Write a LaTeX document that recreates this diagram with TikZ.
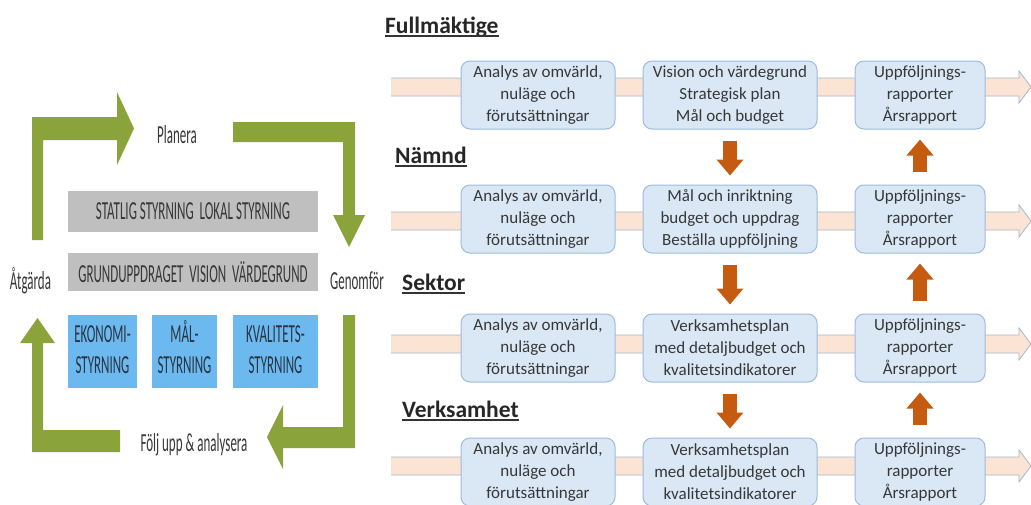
\documentclass[tikz,border=0pt]{standalone}
\usepackage{fontspec}
\setmainfont{Carlito}
\usetikzlibrary{arrows.meta,calc}

\definecolor{bandfill}{RGB}{252,228,212}
\definecolor{banddraw}{RGB}{166,182,203}
\definecolor{boxfill}{RGB}{218,232,246}
\definecolor{boxdraw}{RGB}{157,187,221}
\definecolor{arrorange}{RGB}{197,90,17}
\definecolor{cyclegreen}{RGB}{138,163,59}
\definecolor{greyfill}{RGB}{191,191,191}
\definecolor{bluefill}{RGB}{108,185,240}
\definecolor{txtgrey}{RGB}{55,55,55}
\definecolor{txtblue}{RGB}{40,52,66}

\newcommand{\squeeze}[1]{\scalebox{0.5}[1]{#1}}

\tikzset{
  band/.style={fill=bandfill, draw=banddraw, line width=0.8pt},
  flowbox/.style={rectangle, rounded corners=9pt, fill=boxfill, draw=boxdraw, line width=1pt,
    minimum height=68pt, align=center, inner sep=2pt, text=txtgrey,
    font=\fontsize{17}{22}\selectfont},
  levellabel/.style={inner sep=0pt, anchor=base west, text=black!85,
    font=\fontsize{23.5}{28}\selectfont\bfseries},
  uline/.style={line width=1.3pt, black!80},
  orangearrow/.style={draw=arrorange, line width=14pt, -{Triangle[length=16pt,width=26pt]}},
  downarrow/.style={orangearrow, shorten <=11pt, shorten >=9pt},
  uparrow/.style={orangearrow, shorten <=13pt, shorten >=10pt},
  cyclearrow/.style={fill=cyclegreen},
  cyclelabel/.style={inner sep=0pt, anchor=base, text=txtgrey, font=\fontsize{26}{32}\selectfont},
  greybar/.style={fill=greyfill, minimum width=250pt, inner sep=0pt, text=txtgrey,
    font=\fontsize{26}{32}\selectfont},
  bluebox/.style={fill=bluefill, minimum height=73pt, inner sep=0pt, text=txtblue,
    font=\fontsize{26}{31}\selectfont}
}

\begin{document}
\begin{tikzpicture}[x=1pt,y=1pt,yscale=-1]
\path [use as bounding box, fill=white] (0,0) rectangle (1031,504);

%Shape: Right Arrow (band row 1)
\path [band] (391,78) -- (1019,78) -- (1019,71) -- (1031,87) -- (1019,103) -- (1019,96) -- (391,96);
%Shape: Right Arrow (band row 2)
\path [band] (391,212) -- (1019,212) -- (1019,205) -- (1031,221) -- (1019,237) -- (1019,230) -- (391,230);
%Shape: Right Arrow (band row 3)
\path [band] (391,335) -- (1019,335) -- (1019,328) -- (1031,344) -- (1019,360) -- (1019,353) -- (391,353);
%Shape: Right Arrow (band row 4)
\path [band] (391,457) -- (1019,457) -- (1019,450) -- (1031,466) -- (1019,482) -- (1019,475) -- (391,475);

% Text Node
\node [levellabel] (fullm) at (385,33) {Fullmäktige};
\draw [uline] ($(fullm.base west)+(0,3)$) -- ($(fullm.base east)+(0,3)$);
% Text Node
\node [levellabel] (namnd) at (395,163) {Nämnd};
\draw [uline] ($(namnd.base west)+(0,3)$) -- ($(namnd.base east)+(0,3)$);
% Text Node
\node [levellabel] (sektor) at (402,290) {Sektor};
\draw [uline] ($(sektor.base west)+(0,3)$) -- ($(sektor.base east)+(0,3)$);
% Text Node
\node [levellabel] (verks) at (402,417) {Verksamhet};
\draw [uline] ($(verks.base west)+(0,3)$) -- ($(verks.base east)+(0,3)$);

%Rounded Rect (row 1)
\node [flowbox, minimum width=154pt] (ana1) at (538,95) {Analys av omvärld,\\nuläge och\\förutsättningar};
\node [flowbox, minimum width=174pt] (plan1) at (730,95) {Vision och värdegrund\\Strategisk plan\\Mål och budget};
\node [flowbox, minimum width=130pt] (upp1) at (920,95) {Uppföljnings-\\rapporter\\Årsrapport};
%Rounded Rect (row 2)
\node [flowbox, minimum width=154pt] (ana2) at (538,219) {Analys av omvärld,\\nuläge och\\förutsättningar};
\node [flowbox, minimum width=174pt] (plan2) at (730,219) {Mål och inriktning\\budget och uppdrag\\Beställa uppföljning};
\node [flowbox, minimum width=130pt] (upp2) at (920,219) {Uppföljnings-\\rapporter\\Årsrapport};
%Rounded Rect (row 3)
\node [flowbox, minimum width=154pt] (ana3) at (538,348) {Analys av omvärld,\\nuläge och\\förutsättningar};
\node [flowbox, minimum width=174pt] (plan3) at (730,348) {Verksamhetsplan\\med detaljbudget och\\kvalitetsindikatorer};
\node [flowbox, minimum width=130pt] (upp3) at (920,348) {Uppföljnings-\\rapporter\\Årsrapport};
%Rounded Rect (row 4)
\node [flowbox, minimum width=154pt] (ana4) at (538,472) {Analys av omvärld,\\nuläge och\\förutsättningar};
\node [flowbox, minimum width=174pt] (plan4) at (730,472) {Verksamhetsplan\\med detaljbudget och\\kvalitetsindikatorer};
\node [flowbox, minimum width=130pt] (upp4) at (920,472) {Uppföljnings-\\rapporter\\Årsrapport};

%Down Arrows
\draw [downarrow] (plan1.south) -- (plan2.north);
\draw [downarrow] (plan2.south) -- (plan3.north);
\draw [downarrow] (plan3.south) -- (plan4.north);
%Up Arrows
\draw [uparrow] (upp2.north) -- (upp1.south);
\draw [uparrow] (upp3.north) -- (upp2.south);
\draw [uparrow] (upp4.north) -- (upp3.south);

%Shape: Bent Arrow (Atgarda -> Planera)
\fill [cyclearrow] (32,240) -- (32,117) -- (117,117) -- (117,92) -- (134,128.5) -- (117,165) -- (117,140) -- (43,140) -- (43,240) -- cycle;
%Shape: Bent Arrow (Planera -> Genomfor)
\fill [cyclearrow] (233,122) -- (355,122) -- (355,215) -- (365,215) -- (349,247) -- (333,215) -- (343,215) -- (343,142) -- (233,142) -- cycle;
%Shape: Bent Arrow (Genomfor -> Folj upp)
\fill [cyclearrow] (343,315) -- (355,315) -- (355,448) -- (283,448) -- (283,469) -- (267,437) -- (283,405) -- (283,427) -- (343,427) -- cycle;
%Shape: Bent Arrow (Folj upp -> Atgarda)
\fill [cyclearrow] (120,430) -- (43,430) -- (43,343) -- (55,343) -- (37.5,318) -- (20,343) -- (32,343) -- (32,452) -- (120,452) -- cycle;

% Text Node
\node [cyclelabel] (planera) at (177,143) {\squeeze{Planera}};
% Text Node
\node [cyclelabel] (atgarda) at (30.5,289) {\squeeze{Åtgärda}};
% Text Node
\node [cyclelabel] (genomfor) at (357,289) {\squeeze{Genomför}};
% Text Node
\node [cyclelabel] (foljupp) at (194,451) {\squeeze{Följ upp \& analysera}};

%Shape: Rectangle
\node [greybar, minimum height=41pt] (statlig) at (193,211.5) {\squeeze{STATLIG STYRNING\ \ LOKAL STYRNING}};
%Shape: Rectangle
\node [greybar, minimum height=38pt] (grund) at (193,272) {\squeeze{GRUNDUPPDRAGET\ \ VISION\ \ VÄRDEGRUND}};
%Shape: Rectangle
\node [bluebox, minimum width=69pt] (ekon) at (102.5,351.5) {\squeeze{\begin{tabular}{@{}c@{}}EKONOMI-\\STYRNING\end{tabular}}};
%Shape: Rectangle
\node [bluebox, minimum width=65pt] (mal) at (184.5,351.5) {\squeeze{\begin{tabular}{@{}c@{}}MÅL-\\STYRNING\end{tabular}}};
%Shape: Rectangle
\node [bluebox, minimum width=85pt] (kval) at (275.5,351.5) {\squeeze{\begin{tabular}{@{}c@{}}KVALITETS-\\STYRNING\end{tabular}}};

\end{tikzpicture}
\end{document}
